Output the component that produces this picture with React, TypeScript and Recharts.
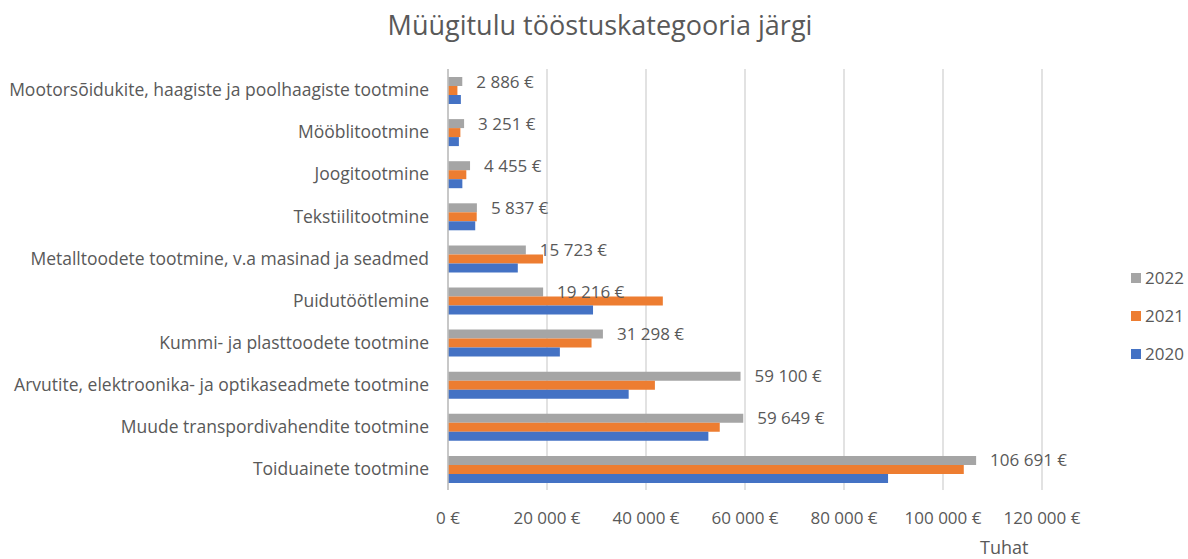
import React from 'react';
import { BarChart, Bar, XAxis, YAxis, CartesianGrid, LabelList } from 'recharts';

const categories = [
  'Mootorsõidukite, haagiste ja poolhaagiste tootmine',
  'Mööblitootmine',
  'Joogitootmine',
  'Tekstiilitootmine',
  'Metalltoodete tootmine, v.a masinad ja seadmed',
  'Puidutöötlemine',
  'Kummi- ja plasttoodete tootmine',
  'Arvutite, elektroonika- ja optikaseadmete tootmine',
  'Muude transpordivahendite tootmine',
  'Toiduainete tootmine',
];

const values2022 = [2886, 3251, 4455, 5837, 15723, 19216, 31298, 59100, 59649, 106691];
const values2021 = [1900, 2500, 3700, 5800, 19200, 43400, 29000, 41800, 54900, 104200];
const values2020 = [2600, 2200, 2900, 5500, 14100, 29300, 22600, 36500, 52600, 88900];

const xTicks = [0, 20000, 40000, 60000, 80000, 100000, 120000];

const series = [
  { key: 'y2022', name: '2022', color: '#a5a5a5' },
  { key: 'y2021', name: '2021', color: '#ed7d31' },
  { key: 'y2020', name: '2020', color: '#4472c4' },
];

const data = categories.map((name, i) => ({
  name,
  y2022: values2022[i],
  y2021: values2021[i],
  y2020: values2020[i],
}));

const FONT = '"Open Sans", Lato, sans-serif';
const TEXT = '#595959';

const euro = (v: number) => String(v).replace(/\B(?=(\d{3})+(?!\d))/g, ' ') + ' €';

export default function App() {
  return (
    <div style={{ position: 'absolute', left: 0, top: 0, width: 1188, height: 559, background: '#fff', fontFamily: FONT }}>
      <div
        style={{
          position: 'absolute',
          top: 6,
          left: 0,
          width: 1200,
          textAlign: 'center',
          fontSize: 27,
          color: TEXT,
        }}
      >
        Müügitulu tööstuskategooria järgi
      </div>
      <BarChart
        width={1188}
        height={559}
        data={data}
        layout="vertical"
        margin={{ top: 69, right: 146, bottom: 29, left: 0 }}
        barCategoryGap="19%"
        barGap={0}
      >
        <CartesianGrid horizontal={false} stroke="#d9d9d9" strokeWidth={1.5} />
        <XAxis
          type="number"
          domain={[0, 120000]}
          ticks={xTicks}
          tickFormatter={euro}
          axisLine={false}
          tickLine={false}
          tickSize={0}
          tickMargin={22}
          height={40}
          tick={{ fill: TEXT, fontSize: 17, fontFamily: FONT }}
          interval={0}
        />
        <YAxis
          type="category"
          dataKey="name"
          width={448}
          axisLine={{ stroke: '#bfbfbf', strokeWidth: 1.5 }}
          tickLine={false}
          tickSize={0}
          tickMargin={19}
          interval={0}
          tick={{ fill: TEXT, fontSize: 17.5, fontFamily: FONT }}
        />
        {series.map((s) => (
          <Bar key={s.key} dataKey={s.key} name={s.name} fill={s.color} isAnimationActive={false}>
            {s.key === 'y2022' && (
              <LabelList
                dataKey={s.key}
                position="right"
                offset={14}
                formatter={(v: any) => euro(Number(v))}
                style={{ fill: TEXT, fontSize: 17, fontFamily: FONT }}
              />
            )}
          </Bar>
        ))}
      </BarChart>
      <div
        style={{
          position: 'absolute',
          left: 980,
          top: 535,
          fontSize: 18,
          color: TEXT,
        }}
      >
        Tuhat
      </div>
      <div style={{ position: 'absolute', left: 1131, top: 266 }}>
        {series.map((s) => (
          <div key={s.key} style={{ display: 'flex', alignItems: 'center', height: 23, marginBottom: 15, color: TEXT, fontSize: 17 }}>
            <span style={{ display: 'inline-block', width: 10, height: 10, background: s.color, marginRight: 4 }} />
            {s.name}
          </div>
        ))}
      </div>
    </div>
  );
}
